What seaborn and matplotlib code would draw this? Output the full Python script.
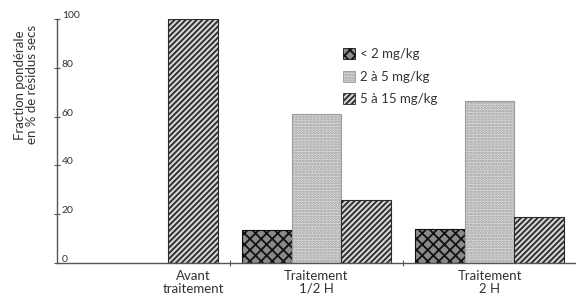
import numpy as np
import pandas as pd
import matplotlib
matplotlib.use("Agg")
import matplotlib.pyplot as plt
import matplotlib.transforms as mtransforms
import seaborn as sns
from matplotlib.patches import Patch

# Data
groups = ["Avant\ntraitement", "Traitement\n1/2 H", "Traitement\n2 H"]
classes = ["< 2 mg/kg", "2 à 5 mg/kg", "5 à 15 mg/kg"]
below_2 = [np.nan, 13.5, 14]
from_2_to_5 = [np.nan, 61, 66.5]
from_5_to_15 = [100, 26, 19]

df = pd.DataFrame({
    "groupe": groups * 3,
    "classe": [classes[0]] * 3 + [classes[1]] * 3 + [classes[2]] * 3,
    "fraction": below_2 + from_2_to_5 + from_5_to_15,
})

sns.set_style("white")
plt.rcParams["font.family"] = ["Lato", "DejaVu Sans"]
plt.rcParams["hatch.linewidth"] = 1.3
txt = "#333333"
fills = ["#8a8a8a", "#e2e2e2", "#d4d4d4"]

fig = plt.figure(figsize=(5.76, 2.98), dpi=100)
ax = fig.add_axes([57 / 576, 35 / 298, 1 - 57 / 576, 244 / 298])

sns.barplot(data=df, x="groupe", y="fraction", hue="classe", order=groups,
            hue_order=classes, width=0.86, ax=ax, legend=False,
            palette=fills, saturation=1)

# hatch style per class
styles = [("xxx", "#111111"), ("......", "#9a9a9a"), ("//////", "#2a2a2a")]
for cont, (h, ec) in zip(ax.containers, styles):
    for bar in cont:
        bar.set_hatch(h)
        bar.set_edgecolor(ec)
        bar.set_linewidth(0.8)

ax.set_xlim(-0.5, 2.5)
ax.set_ylim(0, 100)
for s in ["top", "right"]:
    ax.spines[s].set_visible(False)
for s in ["left", "bottom"]:
    ax.spines[s].set_color("#555555")
    ax.spines[s].set_linewidth(1.0)

# y ticks, labels to the right of the axis line
ax.set_yticks([0, 20, 40, 60, 80, 100])
ax.tick_params(axis="y", left=True, direction="inout", length=5, width=0.8,
               color="#555555", labelsize=7.5, labelcolor=txt, pad=-6)
shift = mtransforms.ScaledTranslation(0, 2.5 / 72, fig.dpi_scale_trans)
for lab in ax.get_yticklabels():
    lab.set_horizontalalignment("left")
    lab.set_verticalalignment("center")
    lab.set_transform(lab.get_transform() + shift)

# x ticks between groups, labels under the visible bars
ax.set_xticks([0.5, 1.5, 2.5])
ax.set_xticklabels([])
ax.tick_params(axis="x", bottom=True, direction="inout", length=5, width=0.8,
               color="#555555")
label_pos = [0 + 0.86 / 3, 1, 2]
for xp, g in zip(label_pos, groups):
    ax.text(xp, -3, g, ha="center", va="top", fontsize=9.5, color=txt,
            linespacing=1.05, clip_on=False)

ax.set_xlabel("")
ax.set_ylabel("Fraction pondérale\nen % de résidus secs", fontsize=9.5, color=txt,
              linespacing=1.0)
ax.yaxis.set_label_coords(-0.036, 0.73)

handles = [Patch(facecolor=fc, edgecolor=ec, hatch=h, linewidth=0.6)
           for (h, ec), fc in zip(styles, fills)]
leg = fig.legend(handles, classes, loc="upper left", bbox_to_anchor=(338 / 576, 1 - 43 / 298),
                 frameon=False, fontsize=9.5, handlelength=0.9, handleheight=0.9,
                 handletextpad=0.4, labelspacing=0.8, borderaxespad=0)
for t in leg.get_texts():
    t.set_color(txt)

fig.savefig("out.png", dpi=100)
